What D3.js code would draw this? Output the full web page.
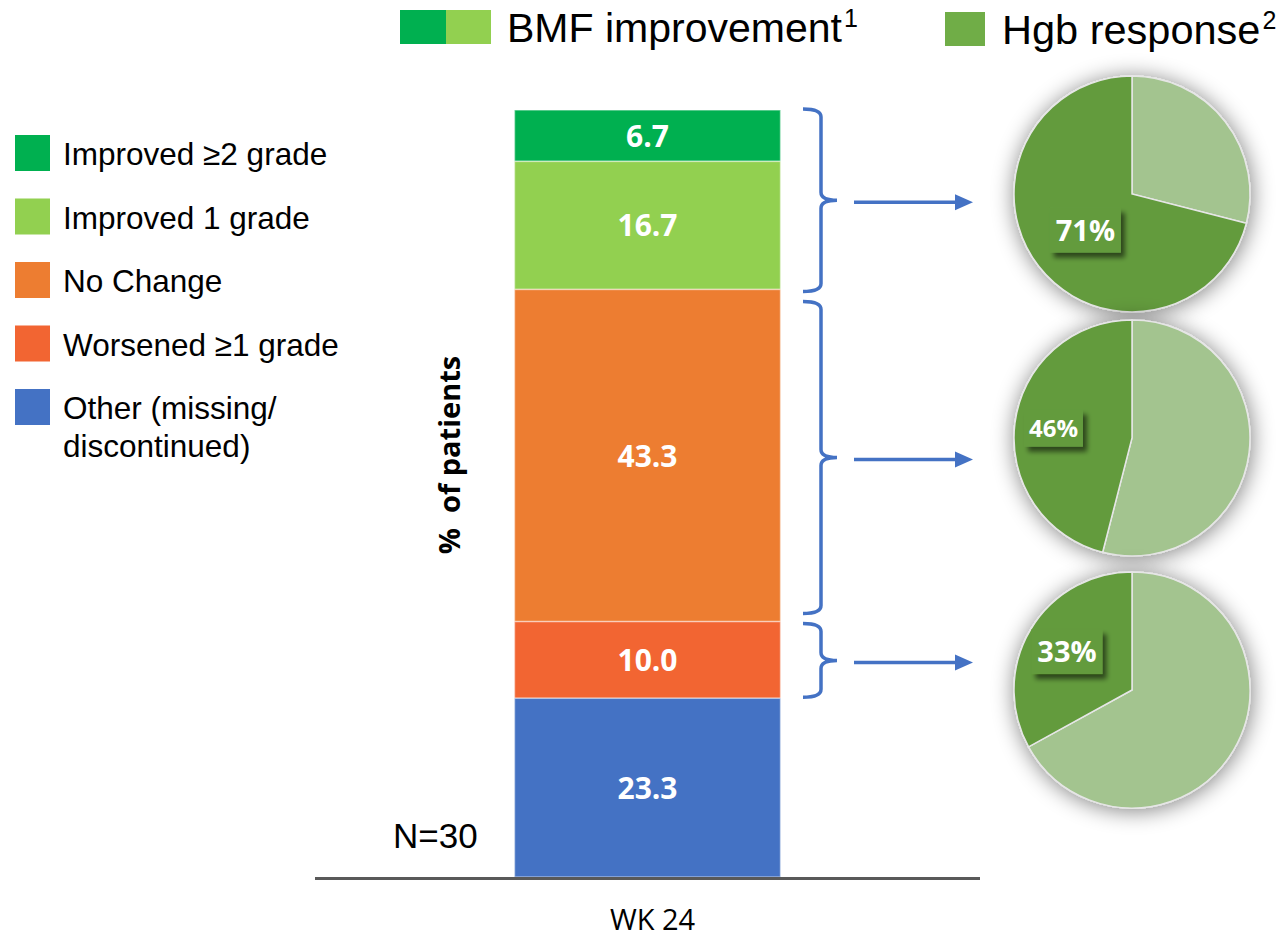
<!DOCTYPE html>
<html>
<head>
<meta charset="utf-8">
<script src="https://cdn.jsdelivr.net/npm/d3@7"></script>
<style>
  html, body { margin: 0; padding: 0; background: #fff; }
  svg { display: block; }
</style>
</head>
<body>
<svg id="chart" width="1287" height="940"></svg>
<script>
// ---------------- DATA ----------------
const categories = ["Improved \u22652 grade", "Improved 1 grade", "No Change", "Worsened \u22651 grade", "Other (missing/ discontinued)"];
const legendLines = [["Improved \u22652 grade"], ["Improved 1 grade"], ["No Change"], ["Worsened \u22651 grade"], ["Other (missing/", "discontinued)"]];
const barValues = [6.7, 16.7, 43.3, 10.0, 23.3];          // top to bottom
const barColors = ["#00B050", "#92D050", "#ED7D31", "#F26532", "#4472C4"];
const timepoint = ["WK 24"];
const nLabel = "N=30";
const yTitle = "%  of patients";
const groups = [[0, 1], [2], [3]];                        // indices of bar segments per brace
const hgbResponse = [71, 46, 33];                          // % Hgb response per group
const hgbLabels = ["71%", "46%", "33%"];
const pieColors = { resp: "#639B3E", nonresp: "#A3C48F", legend: "#70AD47" };

// ---------------- LAYOUT ----------------
const svg = d3.select("#chart");
const defs = svg.append("defs");

const pieShadow = defs.append("filter").attr("id", "pieShadow")
  .attr("x", "-40%").attr("y", "-40%").attr("width", "180%").attr("height", "180%");
pieShadow.append("feGaussianBlur").attr("in", "SourceAlpha").attr("stdDeviation", 11).attr("result", "b");
pieShadow.append("feOffset").attr("in", "b").attr("dx", 1).attr("dy", 2).attr("result", "o");
pieShadow.append("feComponentTransfer").attr("in", "o").attr("result", "s")
  .append("feFuncA").attr("type", "linear").attr("slope", 0.5);
const m1 = pieShadow.append("feMerge");
m1.append("feMergeNode").attr("in", "s");
m1.append("feMergeNode").attr("in", "SourceGraphic");

const boxShadow = defs.append("filter").attr("id", "boxShadow")
  .attr("x", "-30%").attr("y", "-30%").attr("width", "170%").attr("height", "180%");
boxShadow.append("feGaussianBlur").attr("in", "SourceAlpha").attr("stdDeviation", 2.5).attr("result", "b");
boxShadow.append("feOffset").attr("in", "b").attr("dx", 4).attr("dy", 5).attr("result", "o");
boxShadow.append("feComponentTransfer").attr("in", "o").attr("result", "s")
  .append("feFuncA").attr("type", "linear").attr("slope", 0.55);
const m2 = boxShadow.append("feMerge");
m2.append("feMergeNode").attr("in", "s");
m2.append("feMergeNode").attr("in", "SourceGraphic");

// scales
const x = d3.scaleBand().domain(timepoint).range([315, 980]).paddingInner(0).paddingOuter(0.75);
const y = d3.scaleLinear().domain([0, 100]).range([877, 110]);

// stacked segments (top to bottom order, stacking from bottom)
const segs = [];
{
  let acc = 0;
  for (let i = barValues.length - 1; i >= 0; i--) {
    segs[i] = { i, v: barValues[i], y0: acc, y1: acc + barValues[i], color: barColors[i], name: categories[i] };
    acc += barValues[i];
  }
}

const bx = x(timepoint[0]), bw = x.bandwidth();
const gBar = svg.append("g");
gBar.selectAll("rect").data(segs).join("rect")
  .attr("x", bx).attr("width", bw)
  .attr("y", d => y(d.y1)).attr("height", d => y(d.y0) - y(d.y1))
  .attr("fill", d => d.color)
  .attr("stroke", "rgba(255,255,255,0.45)").attr("stroke-width", 1.5);

gBar.selectAll("text").data(segs).join("text")
  .attr("x", bx + bw / 2)
  .attr("y", d => (y(d.y0) + y(d.y1)) / 2 + 11)
  .attr("text-anchor", "middle")
  .attr("font-family", "'Open Sans', sans-serif").attr("font-weight", 700)
  .attr("font-size", 30).attr("fill", "#fff")
  .text(d => d.v.toFixed(1));

// x axis baseline
svg.append("line").attr("x1", 315).attr("x2", 980).attr("y1", y(0) + 1.5).attr("y2", y(0) + 1.5)
  .attr("stroke", "#595959").attr("stroke-width", 3);

svg.append("text").attr("x", bx + bw / 2 + 5).attr("y", 930)
  .attr("text-anchor", "middle").attr("font-family", "'Open Sans', sans-serif")
  .attr("font-size", 29).attr("fill", "#000").text(timepoint[0]);

svg.append("text").attr("x", 393).attr("y", 848)
  .attr("font-family", "'Liberation Sans', Arial, sans-serif")
  .attr("font-size", 35).attr("fill", "#000").text(nLabel);

// y title
svg.append("text").attr("transform", "translate(460,455) rotate(-90)")
  .attr("text-anchor", "middle").attr("font-family", "'Open Sans', sans-serif")
  .attr("font-weight", 700).attr("font-size", 29).attr("fill", "#000")
  .attr("xml:space", "preserve").style("white-space", "pre").text(yTitle);

// left legend
const lg = svg.append("g");
legendLines.forEach((lines, i) => {
  const top = 135 + i * 63.5;
  lg.append("rect").attr("x", 15).attr("y", top).attr("width", 35).attr("height", 36).attr("fill", barColors[i]);
  lines.forEach((ln, j) => {
    lg.append("text").attr("x", 63).attr("y", top + 30 + j * 38)
      .attr("font-family", "'Liberation Sans', Arial, sans-serif")
      .attr("font-size", 31.5).attr("fill", "#000").text(ln);
  });
});

// top legend
const tl = svg.append("g");
tl.append("rect").attr("x", 400).attr("y", 10).attr("width", 46).attr("height", 34).attr("fill", barColors[0]);
tl.append("rect").attr("x", 446).attr("y", 10).attr("width", 45).attr("height", 34).attr("fill", barColors[1]);
const t1 = tl.append("text").attr("x", 507).attr("y", 42)
  .attr("font-family", "'Liberation Sans', Arial, sans-serif").attr("font-size", 41).attr("fill", "#000");
t1.append("tspan").text("BMF improvement");
t1.append("tspan").attr("font-size", 25).attr("dy", -15).attr("dx", 2).text("1");
tl.append("rect").attr("x", 945).attr("y", 12).attr("width", 40).attr("height", 34).attr("fill", pieColors.legend);
const t2 = tl.append("text").attr("x", 1002).attr("y", 44)
  .attr("font-family", "'Liberation Sans', Arial, sans-serif").attr("font-size", 41.5).attr("fill", "#000");
t2.append("tspan").text("Hgb response");
t2.append("tspan").attr("font-size", 25).attr("dy", -15).attr("dx", 2).text("2");

// braces + arrows
const blue = "#4472C4";
const bracePad = [[1, -2], [-12, 8], [-2, 1]];
const pieCY = [194, 438, 690];
const labelR = [0.5, 0.67, 0.64];
const labelFont = [29, 24, 29];
const gBr = svg.append("g");
groups.forEach((g, k) => {
  const top = y(segs[g[0]].y1) - bracePad[k][0];
  const bot = y(segs[g[g.length - 1]].y0) - bracePad[k][1];
  const mid = (top + bot) / 2;
  const x0 = 803, x1 = 821, x2 = 837, r = 8;
  const p = `M${x0},${top} Q${x1},${top} ${x1},${top + r} L${x1},${mid - r} Q${x1},${mid} ${x2},${mid} ` +
            `Q${x1},${mid} ${x1},${mid + r} L${x1},${bot - r} Q${x1},${bot} ${x0},${bot}`;
  gBr.append("path").attr("d", p).attr("fill", "none").attr("stroke", blue).attr("stroke-width", 3.5);
  const ay = mid + 2;
  gBr.append("line").attr("x1", 854).attr("x2", 958).attr("y1", ay).attr("y2", ay)
    .attr("stroke", blue).attr("stroke-width", 3.5);
  gBr.append("path").attr("d", `M955,${ay - 8} L973,${ay} L955,${ay + 8} Z`).attr("fill", blue);
});

// pies
const R = 118, pcx = 1132;
const pie = d3.pie().sort(null).value(d => d.v);
const arc = d3.arc().innerRadius(0).outerRadius(R);
hgbResponse.forEach((resp, k) => {
  const data = [{ key: "non", v: 100 - resp }, { key: "resp", v: resp }];
  const arcs = pie(data);
  const gp = svg.append("g").attr("transform", `translate(${pcx},${pieCY[k]})`);
  const sl = gp.append("g").attr("filter", "url(#pieShadow)");
  sl.selectAll("path").data(arcs).join("path")
    .attr("d", arc)
    .attr("fill", d => d.data.key === "resp" ? pieColors.resp : pieColors.nonresp)
    .attr("stroke", "#E6E6E6").attr("stroke-width", 1.5);
  const la = d3.arc().innerRadius(R * labelR[k]).outerRadius(R * labelR[k]);
  const c = la.centroid(arcs[1]);
  const fs = labelFont[k];
  const bwid = fs * 2.45, bh = fs * 1.55;
  const lb = gp.append("g").attr("transform", `translate(${c[0]},${c[1]})`);
  lb.append("rect").attr("x", -bwid / 2).attr("y", -bh / 2).attr("width", bwid).attr("height", bh)
    .attr("fill", pieColors.resp).attr("filter", "url(#boxShadow)");
  lb.append("text").attr("text-anchor", "middle").attr("y", fs * 0.36)
    .attr("font-family", "'Open Sans', sans-serif").attr("font-weight", 700)
    .attr("font-size", fs).attr("fill", "#fff").text(hgbLabels[k]);
});
</script>
</body>
</html>
